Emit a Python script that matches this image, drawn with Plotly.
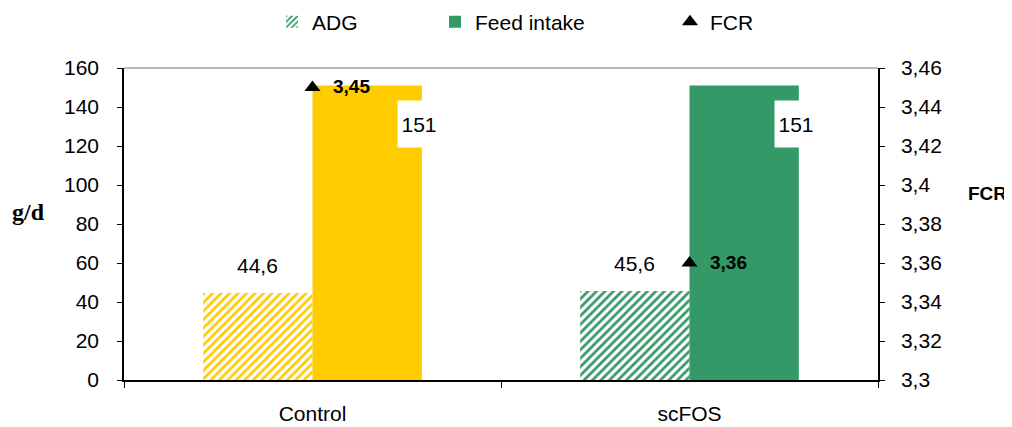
import plotly.graph_objects as go

categories = ["Control", "scFOS"]
adg = [44.6, 45.6]
feed_intake = [151, 151]
fcr = [3.45, 3.36]
bar_colors = ["#FFCC00", "#339966"]
left_ticks = list(range(0, 161, 20))

FONT = "Liberation Sans, Arial, sans-serif"
W, H = 1004, 419  # page body has an 8px margin


def fmt(v, d=None):
    s = f"{v:.{d}f}" if d is not None else f"{v:g}"
    return s.replace(".", ",")


fig = go.Figure()

# real data traces
fig.add_trace(go.Bar(
    x=categories, y=adg, offsetgroup="adg", showlegend=False,
    marker=dict(color="white", line=dict(width=0),
                pattern=dict(shape="/", fgcolor=bar_colors, bgcolor="white",
                             size=6, solidity=0.45, fillmode="replace")),
    hoverinfo="skip"))
fig.add_trace(go.Bar(
    x=categories, y=feed_intake, offsetgroup="fi", showlegend=False,
    marker=dict(color=bar_colors, line=dict(width=0)),
    hoverinfo="skip"))

# legend-only entries
fig.add_trace(go.Bar(
    x=[None], y=[None], name="ADG", offsetgroup="adg", legend="legend",
    marker=dict(color="white", line=dict(width=0),
                pattern=dict(shape="/", fgcolor="#339966", bgcolor="white",
                             size=5, solidity=0.45, fillmode="replace"))))
fig.add_trace(go.Bar(
    x=[None], y=[None], name="Feed intake", offsetgroup="fi", legend="legend2",
    marker=dict(color="#339966", line=dict(width=0))))

fig.add_trace(go.Scatter(
    x=categories, y=fcr, yaxis="y2", mode="markers", name="FCR",
    legend="legend3",
    marker=dict(symbol="triangle-up", color="black", size=14),
    hoverinfo="skip"))

annotations = []
for c, a, f, r in zip(categories, adg, feed_intake, fcr):
    annotations.append(dict(
        x=c, y=a, xref="x", yref="y", text=fmt(a, 1), showarrow=False,
        xshift=-55, yanchor="bottom", yshift=14,
        font=dict(family=FONT, size=21, color="black")))
    annotations.append(dict(
        x=c, y=f, xref="x", yref="y", text=fmt(f), showarrow=False,
        xshift=106, yanchor="top", yshift=-14, bgcolor="white",
        width=34, height=38, borderpad=4,
        font=dict(family=FONT, size=21, color="black")))
    annotations.append(dict(
        x=c, y=r, xref="x", yref="y2", text="<b>" + fmt(r, 2) + "</b>",
        showarrow=False, xanchor="left", xshift=18, yshift=1,
        font=dict(family=FONT, size=19, color="black")))

annotations.append(dict(
    x=-0.102, y=0.538, xref="paper", yref="paper", xanchor="right",
    text="<b>g/d</b>", showarrow=False,
    font=dict(family="Liberation Serif, Times New Roman, serif", size=24,
              color="black")))
annotations.append(dict(
    x=1.1446, y=0.599, xref="paper", yref="paper", xanchor="center",
    text="<b>FCR</b>", showarrow=False,
    font=dict(family=FONT, size=19, color="black")))

legend_common = dict(orientation="h", yanchor="middle", y=1 - 14 / H,
                     yref="container", xref="container", xanchor="left",
                     bgcolor="rgba(0,0,0,0)",
                     font=dict(family=FONT, size=21, color="black"),
                     itemwidth=30)

fig.update_layout(
    width=W, height=H,
    margin=dict(l=116, r=134, t=60, b=47, autoexpand=False),
    paper_bgcolor="white", plot_bgcolor="white",
    separators=", ",
    barmode="group", bargap=0.42, bargroupgap=0,
    font=dict(family=FONT, size=21, color="black"),
    xaxis=dict(type="category", showline=True, linecolor="black",
               linewidth=1.5, ticks="outside", tickson="boundaries",
               ticklen=6, tickcolor="black", showgrid=False,
               ticklabelstandoff=14,
               tickfont=dict(family=FONT, size=21, color="black")),
    yaxis=dict(range=[0, 160], tickvals=left_ticks, showline=True,
               linecolor="black", linewidth=1.5, ticks="outside",
               ticklen=5, tickcolor="black", showgrid=False,
               zeroline=False, ticklabelstandoff=14,
               tickfont=dict(family=FONT, size=21, color="black")),
    yaxis2=dict(range=[3.3, 3.46], dtick=0.02, tick0=3.3, overlaying="y",
                side="right", showline=True, linecolor="black",
                linewidth=1.5, ticks="outside", ticklen=5,
                tickcolor="black", showgrid=False, zeroline=False,
                ticklabelstandoff=12,
                tickfont=dict(family=FONT, size=21, color="black")),
    legend=dict(x=264 / W, **legend_common),
    legend2=dict(x=427 / W, **legend_common),
    legend3=dict(x=662 / W, **legend_common),
    annotations=annotations,
    shapes=[dict(type="line", xref="paper", yref="paper", x0=0, x1=1,
                 y0=1, y1=1, line=dict(color="#A0A0A0", width=1.5))],
)

fig.write_html("out.html")
